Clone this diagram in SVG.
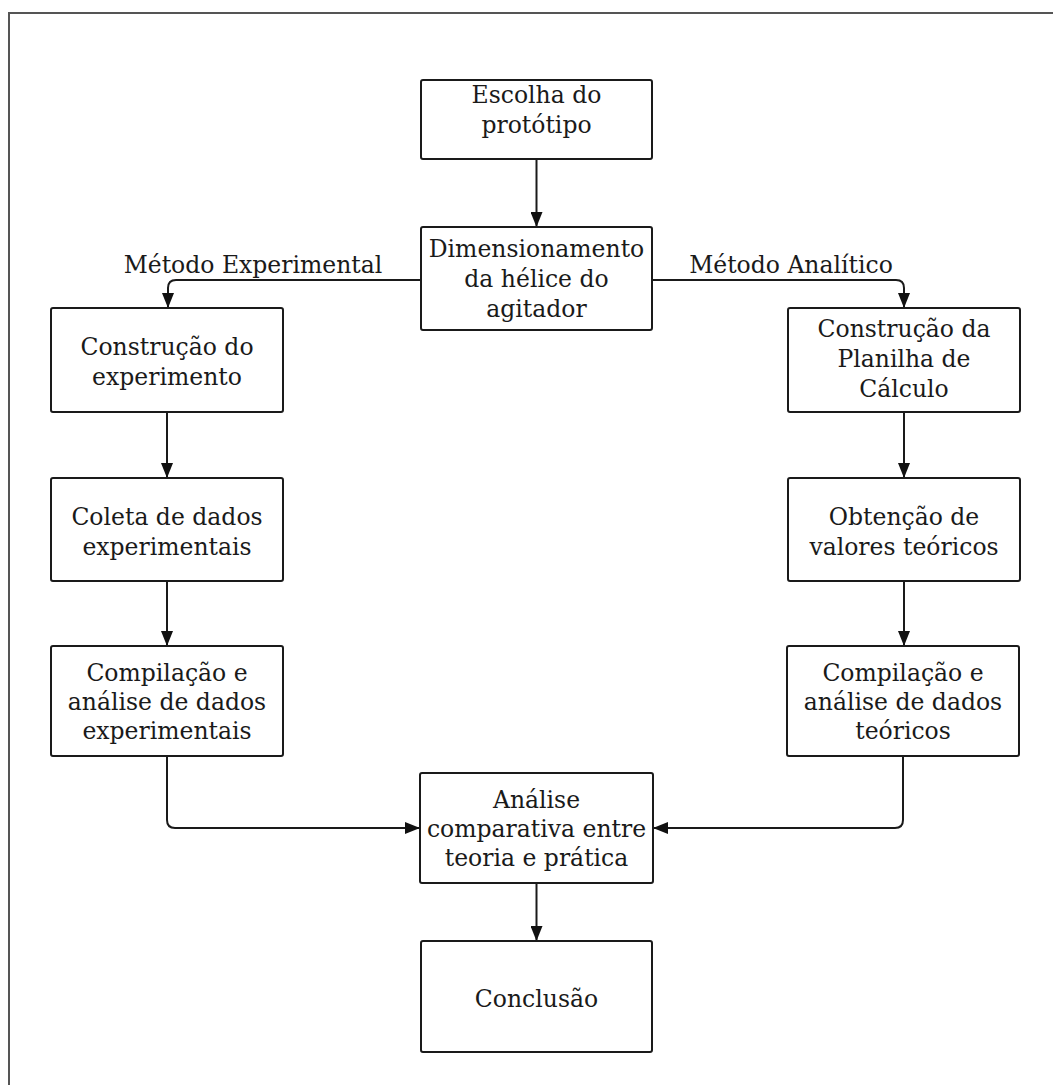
<svg xmlns="http://www.w3.org/2000/svg" width="1053" height="1085" viewBox="0 0 1053 1085">
<defs>
<style>
.box{fill:#fff;stroke:#1a1a1a;stroke-width:2}
.t{font-family:"DejaVu Serif","Liberation Serif",serif;font-size:23.5px;fill:#1a1a1a;text-anchor:middle}
.c{fill:none;stroke:#1a1a1a;stroke-width:2}
</style>
<marker id="ah" viewBox="0 0 15 12" refX="15" refY="6" markerWidth="15" markerHeight="12" markerUnits="userSpaceOnUse" orient="auto">
<path d="M0,0 L15,6 L0,12 Z" fill="#111"/>
</marker>
</defs>
<rect width="1053" height="1085" fill="#fff"/>
<path d="M9,1085 V13 H1053" fill="none" stroke="#555" stroke-width="2"/>
<g id="connectors">
<path class="c" d="M536.5,159 V227" marker-end="url(#ah)"/>
<path class="c" d="M421,280 H176 Q168,280 168,288 V308" marker-end="url(#ah)"/>
<path class="c" d="M652,280 H896 Q904,280 904,288 V308" marker-end="url(#ah)"/>
<path class="c" d="M167,412 V478" marker-end="url(#ah)"/>
<path class="c" d="M904,412 V478" marker-end="url(#ah)"/>
<path class="c" d="M167,581 V646" marker-end="url(#ah)"/>
<path class="c" d="M904,581 V646" marker-end="url(#ah)"/>
<path class="c" d="M167,756 V820 Q167,828 175,828 H420" marker-end="url(#ah)"/>
<path class="c" d="M903,756 V820 Q903,828 895,828 H653" marker-end="url(#ah)"/>
<path class="c" d="M536.5,883 V941" marker-end="url(#ah)"/>
<text class="t" x="253" y="273">Método Experimental</text>
<text class="t" x="791" y="273">Método Analítico</text>
</g>
<g id="n1"><rect class="box" x="421" y="80" width="231" height="79" rx="2"/><text class="t" x="536.5" y="103">Escolha do</text><text class="t" x="536.5" y="133">protótipo</text></g>
<g id="n2"><rect class="box" x="421" y="227" width="231" height="103" rx="2"/><text class="t" x="536.5" y="257">Dimensionamento</text><text class="t" x="536.5" y="287">da hélice do</text><text class="t" x="536.5" y="317">agitador</text></g>
<g id="n3"><rect class="box" x="51" y="308" width="232" height="104" rx="2"/><text class="t" x="167" y="355">Construção do</text><text class="t" x="167" y="385">experimento</text></g>
<g id="n4"><rect class="box" x="788" y="308" width="232" height="104" rx="2"/><text class="t" x="904" y="337">Construção da</text><text class="t" x="904" y="367">Planilha de</text><text class="t" x="904" y="397">Cálculo</text></g>
<g id="n5"><rect class="box" x="51" y="478" width="232" height="103" rx="2"/><text class="t" x="167" y="525">Coleta de dados</text><text class="t" x="167" y="555">experimentais</text></g>
<g id="n6"><rect class="box" x="788" y="478" width="232" height="103" rx="2"/><text class="t" x="904" y="525">Obtenção de</text><text class="t" x="904" y="555">valores teóricos</text></g>
<g id="n7"><rect class="box" x="51" y="646" width="232" height="110" rx="2"/><text class="t" x="167" y="681">Compilação e</text><text class="t" x="167" y="710">análise de dados</text><text class="t" x="167" y="739">experimentais</text></g>
<g id="n8"><rect class="box" x="787" y="646" width="232" height="110" rx="2"/><text class="t" x="903" y="681">Compilação e</text><text class="t" x="903" y="710">análise de dados</text><text class="t" x="903" y="739">teóricos</text></g>
<g id="n9"><rect class="box" x="420" y="773" width="233" height="110" rx="2"/><text class="t" x="536.5" y="808">Análise</text><text class="t" x="536.5" y="837">comparativa entre</text><text class="t" x="536.5" y="866">teoria e prática</text></g>
<g id="n10"><rect class="box" x="421" y="941" width="231" height="111" rx="2"/><text class="t" x="536.5" y="1007">Conclusão</text></g>
</svg>
